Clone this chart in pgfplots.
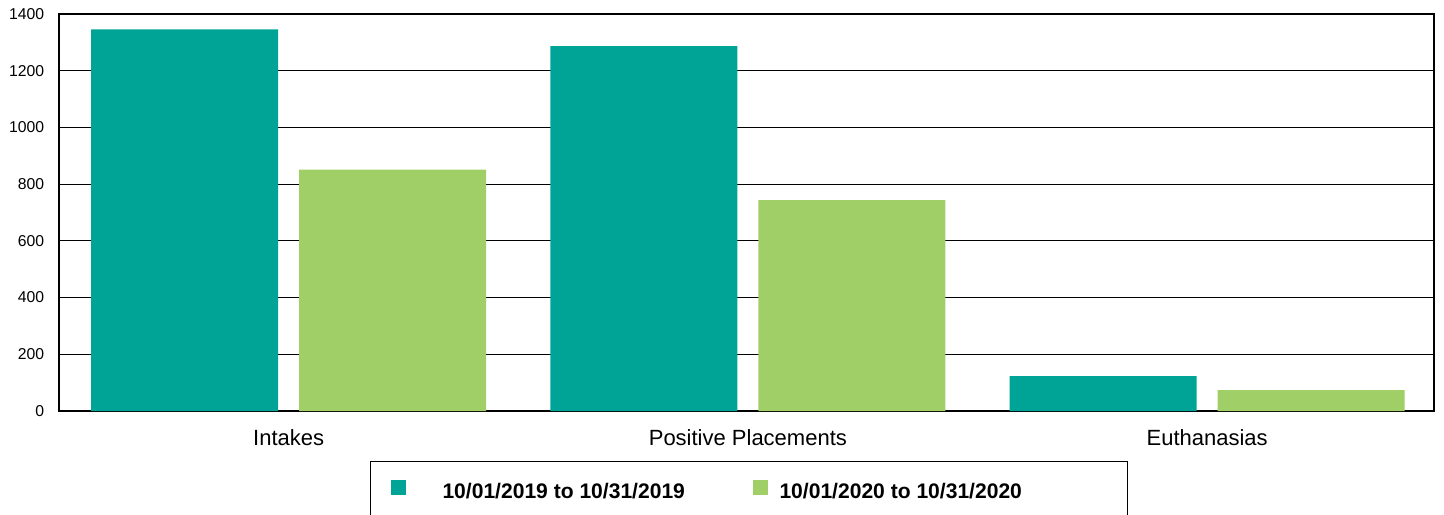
\documentclass[border=0pt]{standalone}
\usepackage{fontspec}
\setmainfont{Liberation Sans}
\usepackage{pgfplots}
\pgfplotsset{compat=1.18}
\definecolor{tealA}{HTML}{00A497}
\definecolor{greenB}{HTML}{A0CF67}
\begin{document}
\begin{tikzpicture}
\useasboundingbox (0,0) rectangle (1083pt,385.5pt);
\begin{axis}[
  at={(44.25pt,77.25pt)}, anchor=south west,
  scale only axis, width=1031.25pt, height=297.75pt,
  xmin=-0.5, xmax=2.494, ymin=0, ymax=1400,
  xtick={0,1,2},
  xticklabels={Intakes, Positive Placements, Euthanasias},
  ytick={0,200,...,1400},
  major tick length=0pt,
  ymajorgrids, grid style={black, line width=0.75pt},
  axis line style={black, line width=1pt},
  /pgf/number format/assume math mode=true,
  /pgf/number format/1000 sep={},
  yticklabel style={font=\fontsize{11.8}{13}\selectfont, anchor=east, inner sep=0pt, xshift=-11pt},
  xticklabel style={font=\fontsize{16.5}{19}\selectfont, anchor=base, inner sep=0pt, yshift=-25.5pt},
  ybar, bar width=0.407,
  legend columns=2,
  legend cell align=left,
  legend style={at={(0.2262,-0.1259)}, anchor=north west, draw=black, line width=0.75pt,
    inner xsep=15pt, inner ysep=13.75pt, nodes={inner sep=0pt, text depth=0pt},
    font=\fontsize{15.8}{18}\selectfont\bfseries},
]
% 10/01/2019 to 10/31/2019
\addplot[draw=none, fill=tealA, bar shift=-0.2265,
  legend image code/.code={\fill[tealA] (0pt,-3pt) rectangle (11.25pt,8.25pt); \path (39pt,0pt);}]
  coordinates {(0,1346) (1,1287) (2,123)};
% 10/01/2020 to 10/31/2020
\addplot[draw=none, fill=greenB, bar shift=0.2265,
  legend image code/.code={\fill[greenB] (0pt,-3pt) rectangle (11.25pt,8.25pt); \path (20.25pt,0pt);}]
  coordinates {(0,851) (1,744) (2,74)};
\legend{\makebox[232.5pt][l]{10/01/2019 to 10/31/2019}, \makebox[246pt][l]{10/01/2020 to 10/31/2020}}
\end{axis}
\end{tikzpicture}
\end{document}
